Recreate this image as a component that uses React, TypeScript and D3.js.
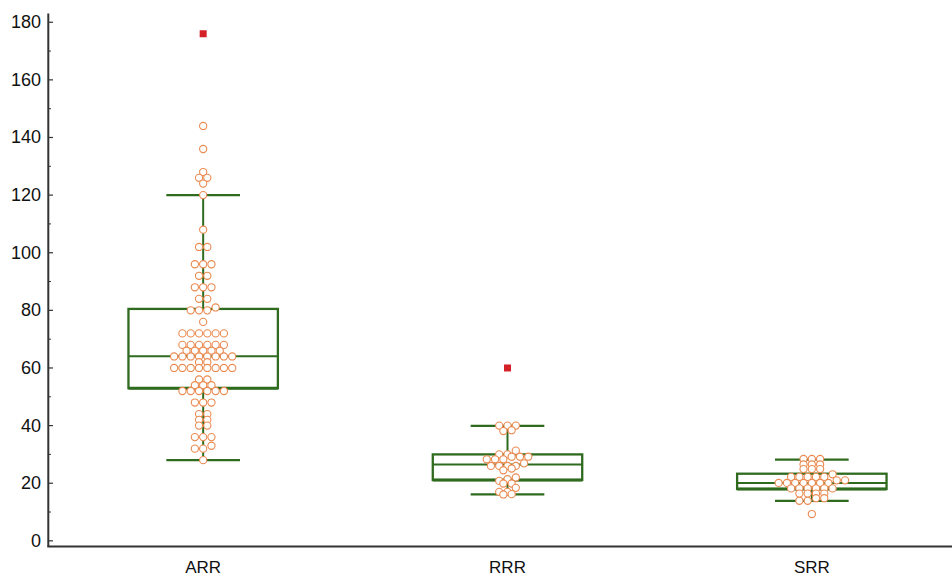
import React, { useEffect } from "react";
import * as d3 from "d3";

const categories = ["ARR", "RRR", "SRR"];

const arrValues = [
  144, 136, 128, 126, 126, 124, 120, 108, 102, 102, 96, 96, 96, 92, 92, 88, 88, 88, 84, 84,
  81, 80, 80, 80, 76, 72, 72, 72, 72, 72, 72, 68, 68, 68, 68, 68, 68, 66, 66, 66, 66, 66,
  64, 64, 64, 64, 64, 64, 64, 64, 62, 62, 60, 60, 60, 60, 60, 60, 60, 60, 56, 56, 54, 54, 54,
  52, 52, 52, 52, 52, 52, 48, 48, 48, 44, 44, 42, 42, 40, 40, 36, 36, 36, 33, 32, 32, 28,
];
const rrrValues = [
  40, 40, 40, 38.4, 38.1, 31.3, 30, 30, 29.2, 29.2, 29.2, 28.3, 28.3, 28.3, 26.9, 26, 26, 26, 26,
  25.1, 24.5, 22, 21.4, 20.8, 19.9, 19.9, 18.4, 17, 17, 16.2, 16.1,
];
const srrValues = [
  28.4, 28.4, 28.4, 26.5, 26.5, 26.5, 24.9, 24.9, 24.9, 23.1, 22.2, 22.2, 22.2, 22.2, 22.2, 21, 21,
  20.1, 20.1, 20.1, 20.1, 20.1, 20.1, 20.1, 18.2, 18.2, 18.2, 18.2, 18.2, 18.2, 16.4, 16.4, 16.4,
  16.4, 14.8, 14.8, 13.9, 13.9, 9.3,
];
const seriesValues = [arrValues, rrrValues, srrValues];

const whiskerLow = [28, 16.1, 13.9];
const q1 = [53, 21.1, 18];
const medians = [64.1, 26.5, 20.1];
const q3 = [80.5, 30, 23.3];
const whiskerHigh = [120, 39.9, 28.2];
const outliers = [[176], [60], [] as number[]];

const majorTicks = [0, 20, 40, 60, 80, 100, 120, 140, 160, 180];
const minorTicks = [10, 30, 50, 70, 90, 110, 130, 150, 170];

const W = 952;
const H = 577;
const GREEN = "#2f6b1e";
const ORANGE = "#ea8a50";
const RED = "#d42027";
const AXIS = "#333333";
const FONT = "'Liberation Sans', Arial, sans-serif";

const y = d3.scaleLinear().domain([-2, 183]).range([546.6, 13.6]);
const x = d3.scaleBand<string>().domain(categories).range([51, 964]).paddingInner(0).paddingOuter(0);
const DOT_STEP = 8.3;

function layoutRows(values: number[], binWidth = 1.5) {
  const sorted = [...values].sort((a, b) => b - a);
  const rows: number[][] = [];
  let start: number | null = null;
  for (const v of sorted) {
    if (start === null || start - v >= binWidth) {
      rows.push([]);
      start = v;
    }
    rows[rows.length - 1].push(v);
  }
  const out: { v: number; k: number }[] = [];
  rows.forEach((r) => {
    const asc = [...r].sort((a, b) => a - b);
    asc.forEach((v, i) => out.push({ v, k: i - (asc.length - 1) / 2 }));
  });
  return out;
}

export default function App() {
  useEffect(() => {
    document.body.style.margin = "0";
  }, []);
  const bw = x.bandwidth();
  const boxW = bw * 0.491;
  const capW = bw * 0.242;
  return (
    <svg
      width={W}
      height={H}
      style={{ position: "absolute", left: 0, top: 0, background: "#fff" }}
      fontFamily={FONT}
    >
      {/* boxes */}
      {categories.map((c, i) => {
        const cx = (x(c) as number) + bw / 2;
        return (
          <g key={c}>
            <line x1={cx} x2={cx} y1={y(whiskerHigh[i])} y2={y(q3[i])} stroke={GREEN} strokeWidth={2} />
            <line x1={cx} x2={cx} y1={y(q1[i])} y2={y(whiskerLow[i])} stroke={GREEN} strokeWidth={2} />
            <line x1={cx - capW / 2} x2={cx + capW / 2} y1={y(whiskerHigh[i])} y2={y(whiskerHigh[i])} stroke={GREEN} strokeWidth={2.2} />
            <line x1={cx - capW / 2} x2={cx + capW / 2} y1={y(whiskerLow[i])} y2={y(whiskerLow[i])} stroke={GREEN} strokeWidth={2.2} />
            <rect
              x={cx - boxW / 2}
              y={y(q3[i])}
              width={boxW}
              height={y(q1[i]) - y(q3[i])}
              fill="none"
              stroke={GREEN}
              strokeWidth={2.3}
            />
            <line x1={cx - boxW / 2} x2={cx + boxW / 2} y1={y(q1[i])} y2={y(q1[i])} stroke={GREEN} strokeWidth={3} />
            <line x1={cx - boxW / 2} x2={cx + boxW / 2} y1={y(medians[i])} y2={y(medians[i])} stroke={GREEN} strokeWidth={2} />
          </g>
        );
      })}
      {/* dots */}
      {categories.map((c, i) => {
        const cx = (x(c) as number) + bw / 2;
        return (
          <g key={"d" + c}>
            {layoutRows(seriesValues[i]).map((p, j) => (
              <circle
                key={j}
                cx={cx + p.k * DOT_STEP}
                cy={y(p.v)}
                r={3.6}
                fill="#fff"
                stroke={ORANGE}
                strokeWidth={1.1}
              />
            ))}
            {outliers[i].map((v, j) => (
              <rect key={"o" + j} x={cx - 3.5} y={y(v) - 3.5} width={7} height={7} fill={RED} />
            ))}
          </g>
        );
      })}
      {/* axes */}
      <line x1={48.3} x2={48.3} y1={y(183)} y2={y(-2)} stroke={AXIS} strokeWidth={2} />
      <line x1={47.3} x2={W} y1={y(-2)} y2={y(-2)} stroke={AXIS} strokeWidth={2} />
      {majorTicks.map((t) => (
        <g key={"t" + t}>
          <line x1={48.3} x2={53} y1={y(t)} y2={y(t)} stroke={AXIS} strokeWidth={1.2} />
          <text x={41} y={y(t)} textAnchor="end" dominantBaseline="central" fontSize={18} fill="#111">
            {t}
          </text>
        </g>
      ))}
      {minorTicks.map((t) => (
        <line key={"m" + t} x1={48.3} x2={51} y1={y(t)} y2={y(t)} stroke={AXIS} strokeWidth={1} />
      ))}
      {categories.map((c) => (
        <text
          key={"x" + c}
          x={(x(c) as number) + bw / 2}
          y={567}
          textAnchor="middle"
          dominantBaseline="central"
          fontSize={17}
          fill="#111"
        >
          {c}
        </text>
      ))}
    </svg>
  );
}
